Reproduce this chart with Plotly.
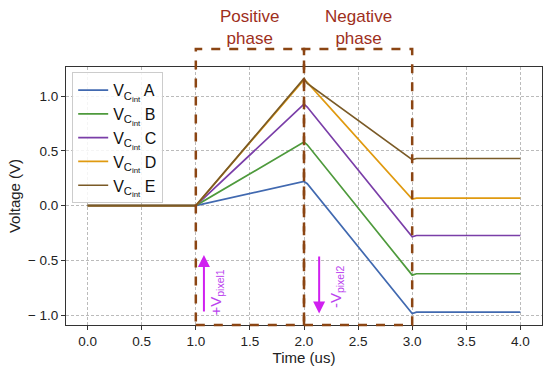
import plotly.graph_objects as go

# ---- data ----
time_us = [0.0, 1.0, 2.0, 2.03, 3.0, 3.04, 4.0]
v_a = [0.0, 0.0, 0.22, 0.20, -0.985, -0.972, -0.972]
v_b = [0.0, 0.0, 0.58, 0.555, -0.635, -0.622, -0.622]
v_c = [0.0, 0.0, 0.925, 0.90, -0.285, -0.273, -0.273]
v_d = [0.0, 0.0, 1.15, 1.125, 0.06, 0.068, 0.068]
v_e = [0.0, 0.0, 1.16, 1.115, 0.42, 0.43, 0.43]
series_names = ["A", "B", "C", "D", "E"]
series_values = [v_a, v_b, v_c, v_d, v_e]
colors = ["#4169B0", "#4E9A3C", "#7A3EA8", "#E09A10", "#7A5A26"]

x_ticks = [0.0, 0.5, 1.0, 1.5, 2.0, 2.5, 3.0, 3.5, 4.0]
y_ticks = [-1.0, -0.5, 0.0, 0.5, 1.0]
y_ticktext = ["\u2212 1.0", "\u2212 0.5", "0.0", "0.5", "1.0"]

phases = [(1.0, 2.0, "Positive<br>phase"), (2.0, 3.0, "Negative<br>phase")]

FONT = "Liberation Sans, Arial, sans-serif"
BOX = "#8B4513"
TXT = "#9E2F1C"
ARROW = "#D020F0"

fig = go.Figure()
for name, vals, col in zip(series_names, series_values, colors):
    fig.add_trace(go.Scatter(
        x=time_us, y=vals, mode="lines",
        name="V<sub>C<sub>int</sub></sub> " + name,
        line=dict(color=col, width=1.7),
    ))

for x0, x1, label in phases:
    fig.add_shape(type="rect", xref="x", yref="paper", x0=x0, x1=x1, y0=0, y1=1.07,
                  line=dict(color=BOX, width=2.5, dash="dash"), fillcolor="rgba(0,0,0,0)")
    fig.add_annotation(xref="x", yref="paper", x=(x0 + x1) / 2, y=1.155,
                       yanchor="middle", xanchor="center",
                       text=label, showarrow=False,
                       font=dict(family=FONT, size=17, color=TXT))

# arrows
fig.add_annotation(xref="x", yref="y", axref="x", ayref="y",
                   x=1.075, y=-0.45, ax=1.075, ay=-0.98, text="",
                   showarrow=True, arrowhead=2, arrowsize=1.2, arrowwidth=2, arrowcolor=ARROW)
fig.add_annotation(xref="x", yref="y", x=1.19, y=-0.79, text="+V<sub>pixel1</sub>",
                   textangle=-90, showarrow=False,
                   font=dict(family=FONT, size=15, color="#BB44EE"))
fig.add_annotation(xref="x", yref="y", axref="x", ayref="y",
                   x=2.14, y=-0.985, ax=2.14, ay=-0.45, text="",
                   showarrow=True, arrowhead=2, arrowsize=1.2, arrowwidth=2, arrowcolor=ARROW)
fig.add_annotation(xref="x", yref="y", x=2.30, y=-0.74, text="-V<sub>pixel2</sub>",
                   textangle=-90, showarrow=False,
                   font=dict(family=FONT, size=15, color="#BB44EE"))

axis_common = dict(
    showline=True, linecolor="#333333", linewidth=1, mirror=True,
    ticks="outside", ticklen=4, tickcolor="#333333",
    showgrid=True, gridcolor="#BBBBBB", griddash="3px,2px", gridwidth=0.8,
    zeroline=False, tickfont=dict(family=FONT, size=13.5, color="#222222"),
)

fig.update_layout(
    width=550, height=368,
    margin=dict(l=66, r=8, t=67, b=43),
    paper_bgcolor="white", plot_bgcolor="white",
    font=dict(family=FONT, size=13, color="#222222"),
    showlegend=True,
    legend=dict(x=0.013, y=0.98, xanchor="left", yanchor="top",
                bgcolor="rgba(255,255,255,0.85)", bordercolor="#CCCCCC", borderwidth=1,
                font=dict(family=FONT, size=16, color="#111111"),
                tracegroupgap=0, itemwidth=30),
    xaxis=dict(range=[-0.2, 4.2], tickvals=x_ticks,
               ticktext=[f"{v:.1f}" for v in x_ticks],
               title=dict(text="Time (us)", font=dict(family=FONT, size=15), standoff=0),
               **axis_common),
    yaxis=dict(range=[-1.09, 1.265], tickvals=y_ticks, ticktext=y_ticktext,
               title=dict(text="Voltage (V)", font=dict(family=FONT, size=15), standoff=3),
               **axis_common),
)

fig.write_html("out.html", config={"displayModeBar": False},
               post_script="document.body.style.margin='0px';")
